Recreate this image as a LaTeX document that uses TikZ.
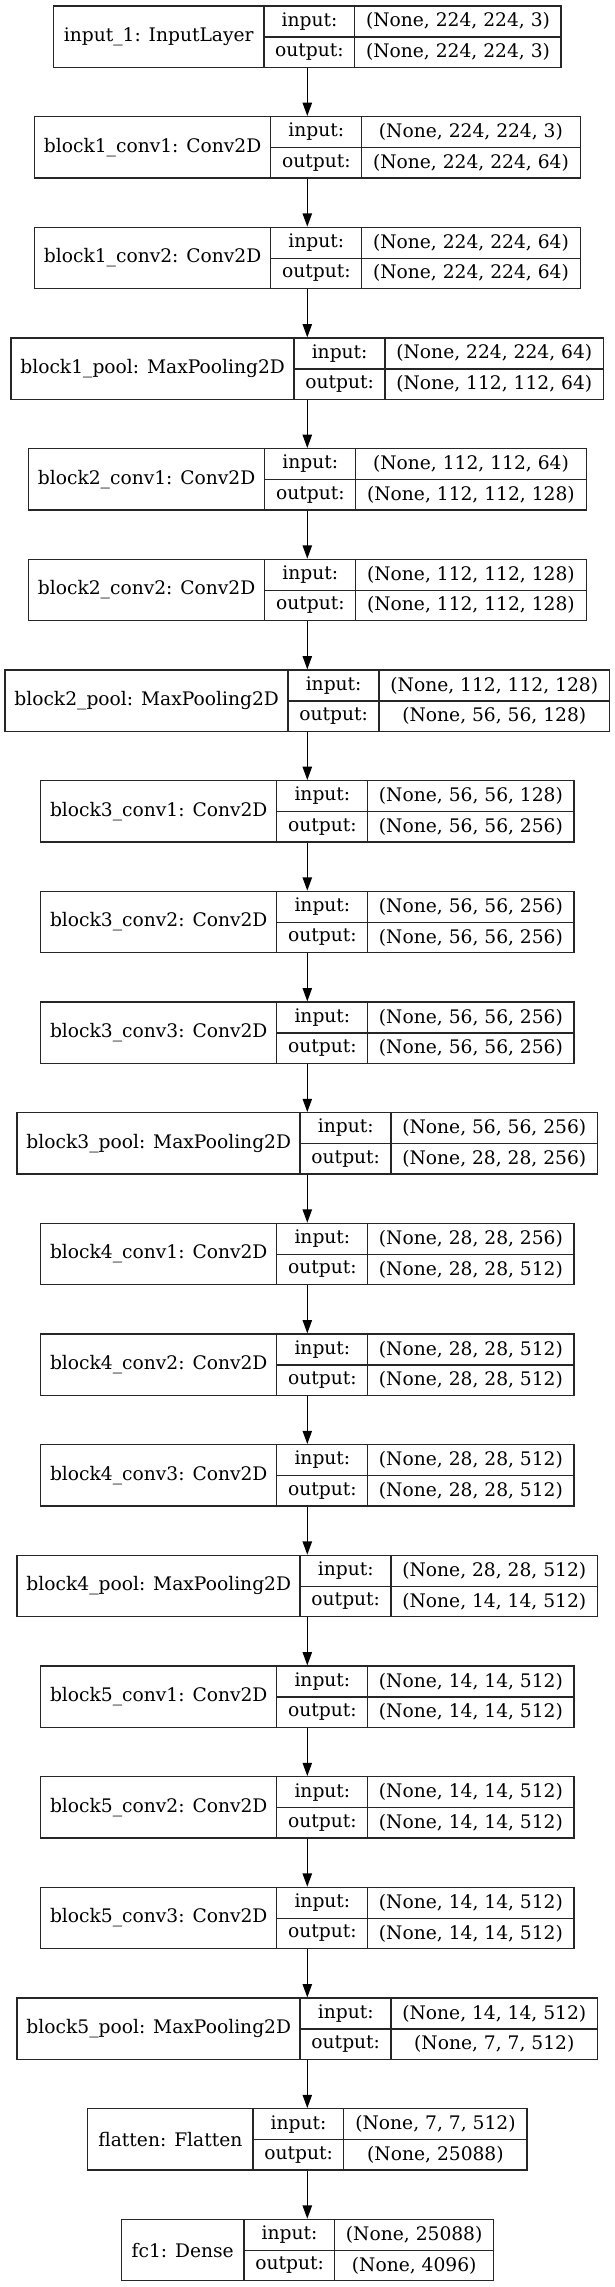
\documentclass[tikz,border=0pt]{standalone}
\usepackage{fontspec}
\setmainfont{DejaVu Serif}
\usepackage{tikz}
\usetikzlibrary{arrows.meta}
\tikzset{
  layerbox/.style={draw=black!85, line width=1.33pt, rectangle, inner sep=0pt, minimum height=61.33pt},
  cellbox/.style={rectangle, inner sep=0pt, minimum height=30.67pt, minimum width=90.8pt},
  divider/.style={draw=black!85, line width=1.33pt},
  flow/.style={line width=1.33pt, -{Triangle[length=13.3pt,width=9.3pt]}}
}

\begin{document}
\begin{tikzpicture}[x=1pt, y=-1pt, font=\fontsize{18.67pt}{22pt}\selectfont]
\fill[white] (0,0) rectangle (615,2287);
\useasboundingbox (0,0) rectangle (615,2287);
% one record per layer: label | input:/output: | shapes
\foreach \lw/\vw/\lab/\ia/\oa [count=\k from 0] in {
 210.6/206.3/{input\_1: InputLayer}/{(None, 224, 224, 3)}/{(None, 224, 224, 3)},
 236.5/218.5/{block1\_conv1: Conv2D}/{(None, 224, 224, 3)}/{(None, 224, 224, 64)},
 236.5/218.5/{block1\_conv2: Conv2D}/{(None, 224, 224, 64)}/{(None, 224, 224, 64)},
 283.2/218.5/{block1\_pool: MaxPooling2D}/{(None, 224, 224, 64)}/{(None, 112, 112, 64)},
 236.5/230.5/{block2\_conv1: Conv2D}/{(None, 112, 112, 64)}/{(None, 112, 112, 128)},
 236.5/230.5/{block2\_conv2: Conv2D}/{(None, 112, 112, 128)}/{(None, 112, 112, 128)},
 283.2/230.5/{block2\_pool: MaxPooling2D}/{(None, 112, 112, 128)}/{(None, 56, 56, 128)},
 236.5/206.3/{block3\_conv1: Conv2D}/{(None, 56, 56, 128)}/{(None, 56, 56, 256)},
 236.5/206.3/{block3\_conv2: Conv2D}/{(None, 56, 56, 256)}/{(None, 56, 56, 256)},
 236.5/206.3/{block3\_conv3: Conv2D}/{(None, 56, 56, 256)}/{(None, 56, 56, 256)},
 283.2/206.3/{block3\_pool: MaxPooling2D}/{(None, 56, 56, 256)}/{(None, 28, 28, 256)},
 236.5/206.3/{block4\_conv1: Conv2D}/{(None, 28, 28, 256)}/{(None, 28, 28, 512)},
 236.5/206.3/{block4\_conv2: Conv2D}/{(None, 28, 28, 512)}/{(None, 28, 28, 512)},
 236.5/206.3/{block4\_conv3: Conv2D}/{(None, 28, 28, 512)}/{(None, 28, 28, 512)},
 283.2/206.3/{block4\_pool: MaxPooling2D}/{(None, 28, 28, 512)}/{(None, 14, 14, 512)},
 236.5/206.3/{block5\_conv1: Conv2D}/{(None, 14, 14, 512)}/{(None, 14, 14, 512)},
 236.5/206.3/{block5\_conv2: Conv2D}/{(None, 14, 14, 512)}/{(None, 14, 14, 512)},
 236.5/206.3/{block5\_conv3: Conv2D}/{(None, 14, 14, 512)}/{(None, 14, 14, 512)},
 283.2/206.3/{block5\_pool: MaxPooling2D}/{(None, 14, 14, 512)}/{(None, 7, 7, 512)},
 165.5/183.0/{flatten: Flatten}/{(None, 7, 7, 512)}/{(None, 25088)},
 123.0/158.4/{fc1: Dense}/{(None, 25088)}/{(None, 4096)}
} {
 \pgfmathsetmacro\tp{6+\k*110.67}
 \pgfmathsetmacro\bw{\lw+90.8+\vw}
 \pgfmathsetmacro\lf{307.3-\bw/2}
 \node[layerbox, minimum width=\bw pt] (lay\k) at (307.3,\tp+30.67) {};
 \node (lab\k) at (\lf+\lw/2,\tp+30.67) {\lab};
 \node[cellbox] (pin\k) at (\lf+\lw+45.4,\tp+15.33) {input:};
 \node[cellbox] (pout\k) at (\lf+\lw+45.4,\tp+46) {output:};
 \node[cellbox, minimum width=\vw pt] (vin\k) at (\lf+\lw+90.8+\vw/2,\tp+15.33) {\ia};
 \node[cellbox, minimum width=\vw pt] (vout\k) at (\lf+\lw+90.8+\vw/2,\tp+46) {\oa};
 \draw[divider] (pin\k.north west) -- (pout\k.south west);
 \draw[divider] (vin\k.north west) -- (vout\k.south west);
 \draw[divider] (pin\k.south west) -- (vin\k.south east);
}
\foreach \k [remember=\k as \j (initially 0)] in {1,...,20}
 \draw[flow] (lay\j.south) -- (lay\k.north);
\end{tikzpicture}
\end{document}
